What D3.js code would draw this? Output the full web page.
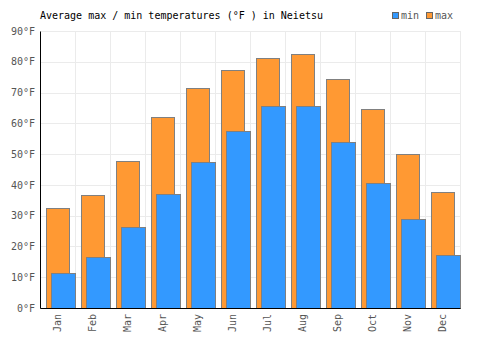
<!DOCTYPE html>
<meta charset="utf-8">
<style>
  body { margin: 0; background: #fff; }
  text { font-family: "DejaVu Sans Mono", monospace; font-size: 10px; }
  .grid line { stroke: #ebebeb; stroke-width: 1px; }
  .bar { stroke: #808080; stroke-width: 1px; }
  .tick text { fill: #555; }
</style>
<svg width="500" height="350"></svg>
<script src="https://d3js.org/d3.v7.min.js"></script>
<script>
  var months = ["Jan", "Feb", "Mar", "Apr", "May", "Jun", "Jul", "Aug", "Sep", "Oct", "Nov", "Dec"];
  var maxTemps = [32.4, 36.6, 47.6, 61.9, 71.4, 77.2, 81.1, 82.5, 74.3, 64.6, 49.9, 37.6];
  var minTemps = [11.3, 16.5, 26.2, 36.9, 47.3, 57.5, 65.5, 65.5, 53.8, 40.5, 28.8, 17.1];
  var yTicks = [0, 10, 20, 30, 40, 50, 60, 70, 80, 90];

  var svg = d3.select("svg");
  var plotL = 40, plotR = 460, plotT = 31, plotB = 308;

  var x = d3.scaleBand().domain(months).range([plotL, plotR]);
  var y = d3.scaleLinear().domain([0, 90]).range([plotB, plotT]);
  var bw = x.bandwidth();

  // grid
  var grid = svg.append("g").attr("class", "grid");
  grid.selectAll(".h").data(yTicks).enter().append("line")
    .attr("x1", plotL).attr("x2", plotR)
    .attr("y1", function(d) { return Math.round(y(d)) + 0.5; })
    .attr("y2", function(d) { return Math.round(y(d)) + 0.5; });
  grid.selectAll(".v").data(months).enter().append("line")
    .attr("x1", function(d) { return Math.round(x(d) + bw) + 0.5; })
    .attr("x2", function(d) { return Math.round(x(d) + bw) + 0.5; })
    .attr("y1", plotT).attr("y2", plotB);

  // max bars
  svg.append("g").selectAll("rect").data(months).enter().append("rect")
    .attr("class", "bar")
    .attr("fill", "#ff9933")
    .attr("x", function(d) { return Math.round(x(d) + bw * 0.18) + 0.5; })
    .attr("width", Math.round(bw * 0.66))
    .attr("y", function(d, i) { return Math.round(y(maxTemps[i])) + 0.5; })
    .attr("height", function(d, i) { return Math.round(plotB - y(maxTemps[i])); });

  // min bars
  svg.append("g").selectAll("rect").data(months).enter().append("rect")
    .attr("class", "bar")
    .attr("fill", "#3399ff")
    .attr("x", function(d) { return Math.round(x(d) + bw * 0.32) + 0.5; })
    .attr("width", Math.round(bw * 0.68))
    .attr("y", function(d, i) { return Math.round(y(minTemps[i])) + 0.5; })
    .attr("height", function(d, i) { return Math.round(plotB - y(minTemps[i])); });

  // axes
  var yAxis = svg.append("g").attr("transform", "translate(" + plotL + ",0)")
    .call(d3.axisLeft(y).tickValues(yTicks).tickSize(0).tickPadding(5)
      .tickFormat(function(d) { return d + "°F"; }));
  yAxis.select(".domain").attr("stroke", "#000");

  var xAxis = svg.append("g").attr("transform", "translate(0," + plotB + ")")
    .call(d3.axisBottom(x).tickSize(0).tickPadding(0));
  xAxis.select(".domain").attr("stroke", "#000");
  xAxis.selectAll("text")
    .attr("transform", "rotate(-90)")
    .attr("text-anchor", "end")
    .attr("x", -6).attr("y", 0).attr("dy", "0.35em");

  // title
  svg.append("text").attr("x", 40).attr("y", 19).attr("fill", "#000")
    .text("Average max / min temperatures (°F ) in Neietsu");

  // legend
  var legend = [["min", "#3399ff", 392], ["max", "#ff9933", 426]];
  legend.forEach(function(l) {
    svg.append("rect").attr("x", l[2] + 0.5).attr("y", 12.5).attr("width", 6).attr("height", 6)
      .attr("fill", l[1]).attr("stroke", "#666");
    svg.append("text").attr("x", l[2] + 9).attr("y", 19).attr("fill", "#555").text(l[0]);
  });
</script>
